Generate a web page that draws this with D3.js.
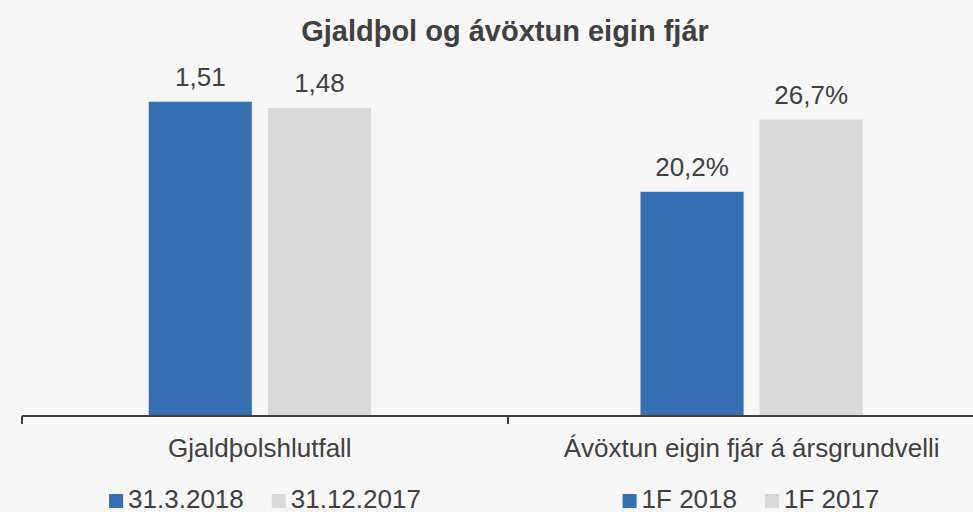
<!DOCTYPE html>
<html>
<head>
<meta charset="utf-8">
<script src="https://cdn.jsdelivr.net/npm/d3@7"></script>
<style>
  body { margin: 0; background: #f7f7f7; }
  svg { display: block; font-family: "Liberation Sans", Arial, sans-serif; }
</style>
</head>
<body>
<div id="chart"></div>
<script>
// chart data
const title = 'Gjaldþol og ávöxtun eigin fjár';
const categories = ['Gjaldþolshlutfall', 'Ávöxtun eigin fjár á ársgrundvelli'];
const seriesLeft = ['31.3.2018', '31.12.2017'];
const valuesLeft = [1.51, 1.48];
const seriesRight = ['1F 2018', '1F 2017'];
const valuesRight = [0.202, 0.267];
const colors = ['#3670b3', '#d9d9d9'];

const width = 973, height = 512;
const baseY = 416, topY = 83;
const textColor = '#404040';

// icelandic number format (comma decimal)
const isl = d3.formatLocale({ decimal: ',', thousands: '.', grouping: [3], currency: ['', ' kr.'] });
const fmtRatio = isl.format('.2f');
const fmtPct = isl.format('.1%');

const groups = [
  { cat: categories[0], names: seriesLeft, values: valuesLeft, fmt: fmtRatio },
  { cat: categories[1], names: seriesRight, values: valuesRight, fmt: fmtPct }
];

const svg = d3.select('#chart').append('svg')
  .attr('width', width)
  .attr('height', height);

svg.append('rect').attr('width', width).attr('height', height).attr('fill', '#f7f7f7');

// two value axes (primary for ratio, secondary for percent)
const yLeft = d3.scaleLinear().domain([0, 1.6]).range([baseY, topY]);
const yRight = d3.scaleLinear().domain([0, 0.30]).range([baseY, topY]);
const yScales = [yLeft, yRight];

// category position for bars
const x = d3.scaleBand().domain(categories).range([14, 997.5])
  .paddingInner(0.548).paddingOuter(0.274);
const xs = d3.scaleBand().domain([0, 1]).range([0, x.bandwidth()]).paddingInner(0.1345);

// axis band (tick marks between categories)
const xAxis = d3.scaleBand().domain(categories).range([22, 994]);

svg.append('text')
  .attr('x', 505).attr('y', 41)
  .attr('text-anchor', 'middle')
  .attr('font-size', 29).attr('font-weight', 'bold')
  .attr('fill', textColor)
  .text(title);

groups.forEach((g, gi) => {
  const y = yScales[gi];
  const gx = x(g.cat);
  const bars = svg.append('g');
  g.values.forEach((v, i) => {
    bars.append('rect')
      .attr('x', gx + xs(i))
      .attr('y', y(v))
      .attr('width', xs.bandwidth())
      .attr('height', baseY - y(v))
      .attr('fill', colors[i]);
    bars.append('text')
      .attr('x', gx + xs(i) + xs.bandwidth() / 2)
      .attr('y', y(v) - 16)
      .attr('text-anchor', 'middle')
      .attr('font-size', 26)
      .attr('fill', textColor)
      .text(g.fmt(v));
  });

  // category label
  svg.append('text')
    .attr('x', gx + x.bandwidth() / 2)
    .attr('y', 457)
    .attr('text-anchor', 'middle')
    .attr('font-size', 26)
    .attr('fill', textColor)
    .text(g.cat);

  // legend under each category
  const leg = svg.append('g');
  let cx = 0;
  g.names.forEach((name, i) => {
    if (i > 0) cx += 28;
    leg.append('rect')
      .attr('x', cx).attr('y', 494)
      .attr('width', 14).attr('height', 14)
      .attr('fill', colors[i]);
    cx += 19;
    const t = leg.append('text')
      .attr('x', cx).attr('y', 508)
      .attr('font-size', 26)
      .attr('fill', textColor)
      .text(name);
    cx += t.node().getComputedTextLength();
  });
  const mid = xAxis(g.cat) + xAxis.bandwidth() / 2;
  leg.attr('transform', `translate(${mid - cx / 2},0)`);
});

// category axis line + tick marks
svg.append('line')
  .attr('x1', xAxis.range()[0]).attr('x2', width)
  .attr('y1', baseY).attr('y2', baseY)
  .attr('stroke', textColor).attr('stroke-width', 2);
categories.forEach(c => {
  svg.append('line')
    .attr('x1', xAxis(c)).attr('x2', xAxis(c))
    .attr('y1', baseY).attr('y2', baseY + 8)
    .attr('stroke', textColor).attr('stroke-width', 2);
});
</script>
</body>
</html>
